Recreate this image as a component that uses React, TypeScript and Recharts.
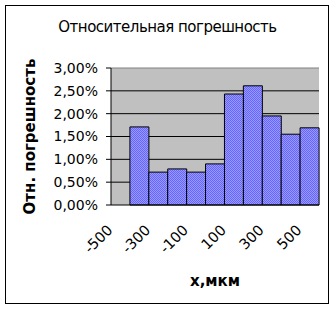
import {
  BarChart,
  Bar,
  XAxis,
  YAxis,
  CartesianGrid,
  ReferenceLine,
  Label,
} from "recharts";

// bin centres, µm
const bins = ["-500", "-400", "-300", "-200", "-100", "0", "100", "200", "300", "400", "500"];
// relative error per bin, %
const relError = [0, 1.71, 0.72, 0.79, 0.72, 0.9, 2.43, 2.61, 1.95, 1.55, 1.69];
// bin boundaries, µm
const binEdges = [-550, -450, -350, -250, -150, -50, 50, 150, 250, 350, 450, 550];
const yTicks = [0, 0.5, 1, 1.5, 2, 2.5, 3];
const gridLevels = [0.5, 1, 1.5, 2, 2.5];

const data = bins.map((b, i) => ({ bin: b, err: relError[i] }));

const FONT = "'DejaVu Sans', Verdana, sans-serif";

const pct = (v: number) => v.toFixed(2).replace(".", ",") + "%";

const SlantTick = (props: any) => {
  const { x, y, payload } = props;
  const px = x - 7;
  return (
    <text
      x={px}
      y={y}
      transform={`rotate(-45 ${px} ${y})`}
      textAnchor="end"
      fontSize={14.5}
      fontFamily={FONT}
      fill="#000"
    >
      {payload.value}
    </text>
  );
};

// edge axis only shows tick marks
const NoLabel = () => <g />;

export default function App() {
  return (
    <div style={{ position: "absolute", left: 0, top: 0, width: 335, height: 309, background: "#fff" }}>
      <svg width={0} height={0} style={{ position: "absolute" }}>
        <defs>
          <pattern id="dither" width={2} height={2} patternUnits="userSpaceOnUse">
            <rect width={2} height={2} fill="#9a9aff" />
            <rect width={1} height={1} fill="#6464ff" />
            <rect x={1} y={1} width={1} height={1} fill="#6464ff" />
          </pattern>
        </defs>
      </svg>
      <div
        style={{
          position: "absolute",
          left: 5,
          top: 5,
          width: 324,
          height: 299,
          boxSizing: "border-box",
          border: "1px solid #000",
        }}
      />
      <div
        style={{
          position: "absolute",
          left: 0,
          width: 335,
          top: 18,
          textAlign: "center",
          fontFamily: FONT,
          fontSize: 15,
          letterSpacing: -0.5,
          color: "#000",
        }}
      >
        Относительная погрешность
      </div>
      <BarChart
        width={335}
        height={309}
        data={data}
        margin={{ top: 68, right: 16, bottom: 23, left: 11 }}
        barCategoryGap={0}
        style={{ position: "absolute", left: 0, top: 0 }}
      >
        <CartesianGrid
          fill="#c0c0c0"
          stroke="#000"
          vertical={false}
          horizontalValues={gridLevels}
        />
        <XAxis
          xAxisId="edges"
          type="number"
          domain={[-550, 550]}
          ticks={binEdges}
          height={1}
          axisLine={false}
          tick={<NoLabel />}
          tickLine={{ stroke: "#000" }}
          tickSize={5}
        />
        <XAxis
          dataKey="bin"
          height={80}
          interval={1}
          axisLine={{ stroke: "#000" }}
          tickLine={false}
          tickSize={0}
          tickMargin={26}
          tick={<SlantTick />}
        >
          <Label
            value="x,мкм"
            position="insideBottom"
            offset={-1}
            style={{ fontFamily: FONT, fontSize: 15, fontWeight: "bold", fill: "#000" }}
          />
        </XAxis>
        <YAxis
          width={100}
          domain={[0, 3]}
          ticks={yTicks}
          interval={0}
          tickFormatter={pct}
          axisLine={{ stroke: "#000" }}
          tickLine={{ stroke: "#000" }}
          tickSize={5}
          tickMargin={8}
          tick={{ fontSize: 14, fontFamily: FONT, fill: "#000" }}
        >
          <Label
            value="Отн. погрешность"
            angle={-90}
            position="center"
            dx={-31}
            style={{ fontFamily: FONT, fontSize: 15, fontWeight: "bold", fill: "#000" }}
          />
        </YAxis>
        <Bar dataKey="err" fill="url(#dither)" stroke="#000" strokeWidth={1} isAnimationActive={false} />
        <ReferenceLine xAxisId="edges" x={550} stroke="#808080" />
        <ReferenceLine xAxisId="edges" y={3} stroke="#808080" />
      </BarChart>
    </div>
  );
}
